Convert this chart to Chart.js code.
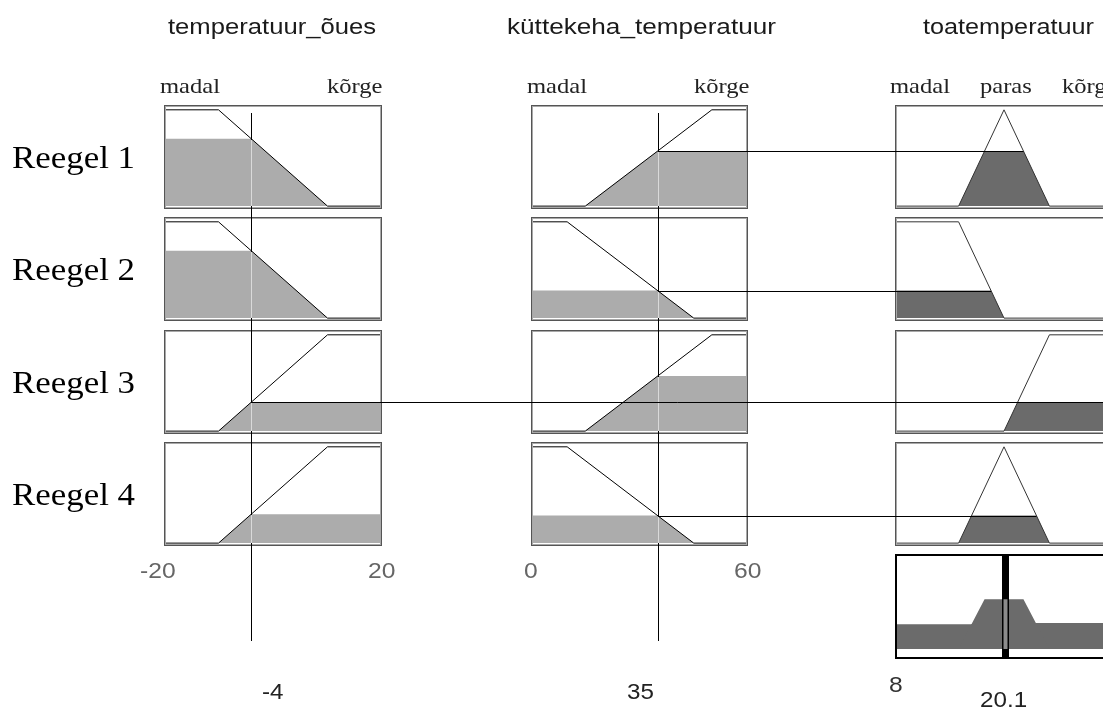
<!DOCTYPE html>
<html>
<head>
<meta charset="utf-8">
<script src="https://cdn.jsdelivr.net/npm/chart.js@4/dist/chart.umd.min.js"></script>
<style>
  html, body { margin: 0; padding: 0; background: #fff; }
  #stage { position: relative; width: 1103px; height: 709px; overflow: hidden; background: #fff; }
  .lbl { position: absolute; white-space: nowrap; line-height: 1; transform-origin: 0 0; }
  canvas { position: absolute; }
</style>
</head>
<body>
<div id="stage"></div>
<script>
// ---- fuzzy system: variables, ranges, crisp values ----
const inputNames = ['temperatuur_õues', 'küttekeha_temperatuur'];
const outputName = 'toatemperatuur';
const inputRanges = [[-20, 20], [0, 60]];
const outputRange = [8, 32];
const inputValues = [-4, 35];
const outputValue = 20.1;
const ruleLabels = ['Reegel 1', 'Reegel 2', 'Reegel 3', 'Reegel 4'];

// axis end labels per column (the output's upper end falls outside the page)
const oues_ticks = ['-20', '20'];
const kytt_ticks = ['0', '60'];
const toa_ticks = ['8'];

// term names written above the first row
const oues_terms = ['madal', 'kõrge'];
const kytt_terms = ['madal', 'kõrge'];
const toa_terms = ['madal', 'paras', 'kõrge'];

// membership functions as breakpoints [x, degree]
const mfOuesMadal = [[-20, 1], [-10, 1], [10, 0], [20, 0]];
const mfOuesKorge = [[-20, 0], [-10, 0], [10, 1], [20, 1]];
const mfKyttMadal = [[0, 1], [10, 1], [45, 0], [60, 0]];
const mfKyttKorge = [[0, 0], [15, 0], [50, 1], [60, 1]];
const mfToaMadal = [[8, 1], [15, 1], [20, 0], [32, 0]];
const mfToaParas = [[8, 0], [15, 0], [20, 1], [25, 0], [32, 0]];
const mfToaKorge = [[8, 0], [20, 0], [25, 1], [32, 1]];

// rule base: antecedent per input, consequent
const ruleOues = [mfOuesMadal, mfOuesMadal, mfOuesKorge, mfOuesKorge];
const ruleKytt = [mfKyttKorge, mfKyttMadal, mfKyttKorge, mfKyttMadal];
const ruleToa  = [mfToaParas, mfToaMadal, mfToaKorge, mfToaParas];

// ---- layout ----
const colLeft = [164, 531, 895];
const colWidth = [218, 217, 218];
const rowTop = [105, 217, 330, 442];
const panelH = 104;
const aggTop = 554, aggH = 105;
const lineTop = 113, lineBottom = 641;
const yRangeRule = [-0.03, 1.05];
const yRangeAgg = [-0.115, 1.092];
const FILL_IN = '#acacac';
const FILL_OUT = '#6b6b6b';

const stage = document.getElementById('stage');

// ---- fuzzy helpers ----
function degree(mf, v) {
  for (let i = 0; i < mf.length - 1; i++) {
    const [x0, y0] = mf[i], [x1, y1] = mf[i + 1];
    if (v >= x0 && v <= x1) return x1 === x0 ? y1 : y0 + (y1 - y0) * (v - x0) / (x1 - x0);
  }
  return 0;
}
function clipMf(mf, level) {
  const out = [];
  for (let i = 0; i < mf.length; i++) {
    const [x, y] = mf[i];
    if (i > 0) {
      const [px, py] = mf[i - 1];
      if ((py - level) * (y - level) < 0) {
        const t = (level - py) / (y - py);
        out.push([px + (x - px) * t, level]);
      }
    }
    out.push([x, Math.min(y, level)]);
  }
  return out;
}
const pts = arr => arr.map(([x, y]) => ({ x, y }));

const ruleMfs = [ruleOues, ruleKytt];
const degrees = ruleLabels.map((_, r) => inputValues.map((v, c) => degree(ruleMfs[c][r], v)));
const strengths = degrees.map(d => Math.min(...d));

// ---- frame plugin ----
const framePlugin = {
  id: 'frame',
  afterDraw(chart, args, opts) {
    const { ctx, width, height } = chart;
    ctx.save();
    if (opts.dark) {
      ctx.strokeStyle = '#000';
      ctx.lineWidth = 2;
      ctx.strokeRect(1, 1, width - 2, height - 2);
    } else {
      ctx.lineWidth = 1;
      ctx.strokeStyle = '#555';
      ctx.strokeRect(0.5, 0.5, width - 1, height - 1);
      ctx.strokeStyle = '#a8a8a8';
      ctx.strokeRect(1.5, 1.5, width - 3, height - 3);
    }
    ctx.restore();
  }
};

function makePanel(left, top, width, height, xRange, yRange, datasets, dark) {
  const cv = document.createElement('canvas');
  cv.width = width; cv.height = height;
  cv.style.left = left + 'px'; cv.style.top = top + 'px';
  cv.style.width = width + 'px'; cv.style.height = height + 'px';
  stage.appendChild(cv);
  return new Chart(cv, {
    type: 'line',
    data: { datasets },
    options: {
      responsive: false,
      animation: false,
      events: [],
      devicePixelRatio: 1,
      layout: { padding: 0 },
      scales: {
        x: { type: 'linear', min: xRange[0], max: xRange[1], display: false },
        y: { type: 'linear', min: yRange[0], max: yRange[1], display: false }
      },
      elements: { point: { radius: 0 }, line: { tension: 0 } },
      plugins: { legend: { display: false }, tooltip: { enabled: false }, frame: { dark } }
    },
    plugins: [framePlugin]
  });
}

function mfDatasets(mf, level, fillColor, lineColor) {
  return [
    { data: pts(mf), borderColor: lineColor, borderWidth: 1, fill: false, order: 0 },
    { data: pts(clipMf(mf, level)), borderColor: 'rgba(0,0,0,0)', borderWidth: 0,
      backgroundColor: fillColor, fill: 'origin', order: 1 }
  ];
}

// ---- rule panels ----
const panels = ruleLabels.map((_, r) => {
  const row = [];
  for (let c = 0; c < 2; c++) {
    row.push(makePanel(colLeft[c], rowTop[r], colWidth[c], panelH, inputRanges[c], yRangeRule,
      mfDatasets(ruleMfs[c][r], degrees[r][c], FILL_IN, '#000'), false));
  }
  row.push(makePanel(colLeft[2], rowTop[r], colWidth[2], panelH, outputRange, yRangeRule,
    mfDatasets(ruleToa[r], strengths[r], FILL_OUT, '#333'), false));
  return row;
});

// ---- aggregated output ----
const aggSets = ruleToa.map((mf, r) => ({
  data: pts(clipMf(mf, strengths[r])), borderColor: 'rgba(0,0,0,0)', borderWidth: 0,
  backgroundColor: FILL_OUT, fill: 'origin'
}));
const agg = makePanel(colLeft[2], aggTop, colWidth[2], aggH, outputRange, yRangeAgg, aggSets, true);

// ---- connecting lines ----
const ov = document.createElement('canvas');
ov.width = 1103; ov.height = 709;
ov.style.left = '0px'; ov.style.top = '0px';
stage.appendChild(ov);
const g = ov.getContext('2d');

const inputX = inputValues.map((v, c) => Math.round(colLeft[c] + panels[0][c].scales.x.getPixelForValue(v)) + 0.5);

inputX.forEach((x, c) => {
  g.strokeStyle = '#000'; g.lineWidth = 1;
  g.beginPath(); g.moveTo(x, lineTop); g.lineTo(x, lineBottom); g.stroke();
  ruleLabels.forEach((_, r) => {
    const lv = degrees[r][c];
    if (lv <= 0) return;
    const ys = panels[r][c].scales.y;
    const y1 = Math.round(rowTop[r] + ys.getPixelForValue(lv)) + 1;
    const y0 = Math.round(rowTop[r] + ys.getPixelForValue(0));
    g.strokeStyle = '#dadada';
    g.beginPath(); g.moveTo(x, y1); g.lineTo(x, y0); g.stroke();
  });
});

ruleLabels.forEach((_, r) => {
  const s = strengths[r];
  const src = degrees[r].indexOf(s);
  const y = Math.round(rowTop[r] + panels[r][src].scales.y.getPixelForValue(s)) + 0.5;
  const clipped = clipMf(ruleToa[r], s).filter(p => Math.abs(p[1] - s) < 1e-9);
  const endVal = clipped[clipped.length - 1][0];
  const xe = colLeft[2] + panels[r][2].scales.x.getPixelForValue(endVal);
  g.strokeStyle = '#000'; g.lineWidth = 1;
  g.beginPath(); g.moveTo(inputX[src], y); g.lineTo(xe, y); g.stroke();
});

// crisp output marker
{
  const xo = Math.round(colLeft[2] + agg.scales.x.getPixelForValue(outputValue)) + 0.5;
  const top = Math.max(...ruleToa.map((mf, r) => Math.min(strengths[r], degree(mf, outputValue))));
  g.strokeStyle = '#000'; g.lineWidth = 7;
  g.beginPath(); g.moveTo(xo, aggTop); g.lineTo(xo, aggTop + aggH); g.stroke();
  g.strokeStyle = '#8c8c8c'; g.lineWidth = 4;
  g.beginPath();
  g.moveTo(xo, aggTop + agg.scales.y.getPixelForValue(top));
  g.lineTo(xo, aggTop + agg.scales.y.getPixelForValue(0));
  g.stroke();
}

// ---- text ----
const SANS = '"Liberation Sans", Arial, sans-serif';
const SERIF = '"Liberation Serif", "Times New Roman", serif';
function addText(str, o) {
  const el = document.createElement('div');
  el.className = 'lbl';
  el.style.font = `${o.size}px ${o.family}`;
  el.style.color = o.color || '#000';
  const span = document.createElement('span');
  span.textContent = str;
  const mark = document.createElement('span');
  mark.style.cssText = 'display:inline-block;width:0;height:0;vertical-align:baseline';
  el.appendChild(span); el.appendChild(mark);
  stage.appendChild(el);
  const w = span.getBoundingClientRect().width;
  const base = mark.offsetTop;
  const sx = o.width ? o.width / w : (o.scale || 1);
  const dw = w * sx;
  const left = o.anchor === 'center' ? o.x - dw / 2 : o.anchor === 'right' ? o.x - dw : o.x;
  el.style.left = left + 'px';
  el.style.top = (o.y - base) + 'px';
  el.style.transform = `scaleX(${sx})`;
}

// variable names
const titleCenters = [272, 641, 1008];
const titleWidths = [208, 269, 171];
[...inputNames, outputName].forEach((t, i) =>
  addText(t, { x: titleCenters[i], y: 34, anchor: 'center', size: 22, family: SANS, color: '#1a1a1a', width: titleWidths[i] }));

// term names
const termOpt = { y: 93, size: 21, family: SERIF, color: '#222', scale: 1.17 };
addText(oues_terms[0], { ...termOpt, x: 160 });
addText(oues_terms[1], { ...termOpt, x: 383, anchor: 'right' });
addText(kytt_terms[0], { ...termOpt, x: 527 });
addText(kytt_terms[1], { ...termOpt, x: 750, anchor: 'right' });
addText(toa_terms[0], { ...termOpt, x: 890 });
addText(toa_terms[1], { ...termOpt, x: 1006, anchor: 'center' });
addText(toa_terms[2], { ...termOpt, x: 1062 });

// rule names
ruleLabels.forEach((t, r) =>
  addText(t, { x: 12, y: rowTop[r] + panelH / 2 + 11, size: 32, family: SERIF, color: '#000', width: 123 }));

// range ends
const tickOpt = { size: 22, family: SANS, color: '#666', scale: 1.12, anchor: 'center' };
addText(oues_ticks[0], { ...tickOpt, x: 158, y: 578 });
addText(oues_ticks[1], { ...tickOpt, x: 382, y: 578 });
addText(kytt_ticks[0], { ...tickOpt, x: 531, y: 578 });
addText(kytt_ticks[1], { ...tickOpt, x: 748, y: 578 });
addText(toa_ticks[0], { ...tickOpt, x: 896, y: 692, color: '#333' });

// crisp values
const valOpt = { size: 22, family: SANS, color: '#222', scale: 1.1, anchor: 'center' };
addText(String(inputValues[0]), { ...valOpt, x: 273, y: 699 });
addText(String(inputValues[1]), { ...valOpt, x: 640, y: 699 });
addText(String(outputValue), { ...valOpt, x: 1004, y: 707 });
</script>
</body>
</html>
